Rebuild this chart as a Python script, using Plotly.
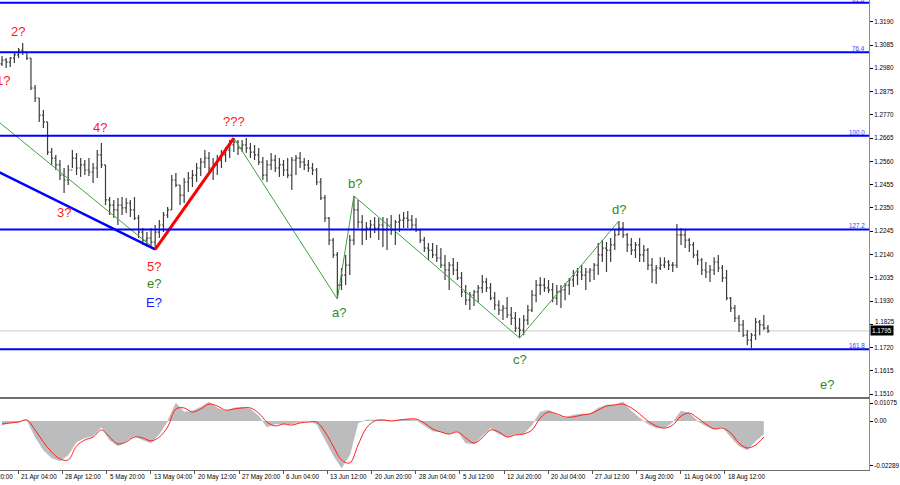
import plotly.graph_objects as go

# ---------------- data ----------------
bar_high = [
    1.3035, 1.3026, 1.3031, 1.3049, 1.3071, 1.3094, 1.3053, 1.3026, 1.2904, 1.2846,
    1.2792, 1.2738, 1.2620, 1.2589, 1.2566, 1.2530, 1.2544, 1.2611, 1.2598, 1.2575,
    1.2566, 1.2575, 1.2553, 1.2611, 1.2643, 1.2544, 1.2399, 1.2386, 1.2395, 1.2399,
    1.2395, 1.2386, 1.2399, 1.2318, 1.2259, 1.2241, 1.2259, 1.2273, 1.2295, 1.2332,
    1.2354, 1.2498, 1.2507, 1.2453, 1.2485, 1.2512, 1.2521, 1.2553, 1.2575, 1.2611,
    1.2602, 1.2575, 1.2589, 1.2611, 1.2625, 1.2656, 1.2665, 1.2656, 1.2656, 1.2665,
    1.2643, 1.2634, 1.2620, 1.2580, 1.2566, 1.2598, 1.2589, 1.2575, 1.2566, 1.2575,
    1.2580, 1.2589, 1.2602, 1.2575, 1.2566, 1.2553, 1.2530, 1.2485, 1.2408, 1.2309,
    1.2214, 1.2151, 1.2079, 1.2138, 1.2228, 1.2404, 1.2386, 1.2318, 1.2286, 1.2295,
    1.2309, 1.2304, 1.2309, 1.2304, 1.2318, 1.2295, 1.2322, 1.2332, 1.2336, 1.2318,
    1.2304, 1.2250, 1.2219, 1.2192, 1.2192, 1.2183, 1.2169, 1.2138, 1.2106, 1.2124,
    1.2106, 1.2061, 1.2002, 1.1971, 1.1980, 1.2002, 1.2047, 1.2034, 1.2011, 1.1971,
    1.1934, 1.1912, 1.1948, 1.1903, 1.1880, 1.1853, 1.1867, 1.1912, 1.1980, 1.2025,
    1.2038, 1.2034, 1.2025, 1.2011, 1.2002, 1.2002, 1.2011, 1.2034, 1.2070, 1.2079,
    1.2092, 1.2079, 1.2079, 1.2101, 1.2192, 1.2205, 1.2196, 1.2214, 1.2250, 1.2291,
    1.2286, 1.2237, 1.2214, 1.2196, 1.2214, 1.2183, 1.2169, 1.2124, 1.2092, 1.2128,
    1.2128, 1.2115, 1.2106, 1.2277, 1.2259, 1.2250, 1.2214, 1.2196, 1.2160, 1.2124,
    1.2106, 1.2092, 1.2128, 1.2138, 1.2092, 1.2070, 1.1948, 1.1912, 1.1867, 1.1844,
    1.1799, 1.1786, 1.1853, 1.1844, 1.1867, 1.1822,
]
bar_low = [
    1.2990, 1.2981, 1.2986, 1.3004, 1.3026, 1.3040, 1.3017, 1.2882, 1.2828, 1.2738,
    1.2710, 1.2589, 1.2544, 1.2521, 1.2476, 1.2417, 1.2453, 1.2530, 1.2498, 1.2489,
    1.2498, 1.2494, 1.2462, 1.2485, 1.2530, 1.2363, 1.2318, 1.2304, 1.2273, 1.2318,
    1.2327, 1.2309, 1.2295, 1.2214, 1.2183, 1.2174, 1.2169, 1.2160, 1.2214, 1.2241,
    1.2304, 1.2341, 1.2444, 1.2363, 1.2372, 1.2422, 1.2444, 1.2467, 1.2494, 1.2530,
    1.2512, 1.2476, 1.2498, 1.2530, 1.2557, 1.2575, 1.2602, 1.2589, 1.2602, 1.2598,
    1.2575, 1.2566, 1.2544, 1.2476, 1.2467, 1.2521, 1.2512, 1.2489, 1.2494, 1.2485,
    1.2431, 1.2498, 1.2530, 1.2521, 1.2512, 1.2498, 1.2453, 1.2386, 1.2286, 1.2183,
    1.2124, 1.1939, 1.1980, 1.2002, 1.2047, 1.2183, 1.2259, 1.2183, 1.2205, 1.2214,
    1.2237, 1.2205, 1.2174, 1.2160, 1.2228, 1.2183, 1.2241, 1.2259, 1.2259, 1.2250,
    1.2241, 1.2192, 1.2151, 1.2115, 1.2124, 1.2106, 1.2079, 1.2025, 1.1980, 1.2047,
    1.2025, 1.1948, 1.1912, 1.1889, 1.1907, 1.1925, 1.1966, 1.1971, 1.1934, 1.1889,
    1.1867, 1.1844, 1.1853, 1.1822, 1.1790, 1.1763, 1.1776, 1.1822, 1.1880, 1.1925,
    1.1957, 1.1971, 1.1966, 1.1925, 1.1912, 1.1898, 1.1934, 1.1957, 1.1993, 1.2002,
    1.2025, 1.1980, 1.2016, 1.2025, 1.2047, 1.2106, 1.2061, 1.2106, 1.2160, 1.2228,
    1.2214, 1.2151, 1.2138, 1.2124, 1.2106, 1.2106, 1.2070, 1.2011, 1.2007, 1.2070,
    1.2079, 1.2070, 1.2061, 1.2079, 1.2183, 1.2169, 1.2151, 1.2124, 1.2092, 1.2047,
    1.2034, 1.2016, 1.2047, 1.2061, 1.2016, 1.1934, 1.1880, 1.1835, 1.1790, 1.1768,
    1.1731, 1.1718, 1.1754, 1.1776, 1.1799, 1.1786,
]
bar_close = [
    1.3017, 1.3008, 1.3026, 1.3040, 1.3062, 1.3053, 1.3026, 1.2891, 1.2846, 1.2769,
    1.2738, 1.2602, 1.2575, 1.2544, 1.2498, 1.2476, 1.2521, 1.2575, 1.2530, 1.2544,
    1.2521, 1.2512, 1.2530, 1.2589, 1.2544, 1.2386, 1.2363, 1.2341, 1.2363, 1.2350,
    1.2372, 1.2341, 1.2304, 1.2241, 1.2205, 1.2214, 1.2196, 1.2241, 1.2273, 1.2318,
    1.2341, 1.2476, 1.2453, 1.2408, 1.2467, 1.2485, 1.2498, 1.2530, 1.2557, 1.2575,
    1.2530, 1.2544, 1.2566, 1.2589, 1.2611, 1.2634, 1.2647, 1.2620, 1.2634, 1.2620,
    1.2602, 1.2589, 1.2557, 1.2498, 1.2544, 1.2566, 1.2530, 1.2544, 1.2521, 1.2498,
    1.2566, 1.2575, 1.2557, 1.2544, 1.2530, 1.2521, 1.2467, 1.2395, 1.2304, 1.2205,
    1.2138, 1.2002, 1.2047, 1.2092, 1.2205, 1.2341, 1.2286, 1.2250, 1.2259, 1.2273,
    1.2259, 1.2273, 1.2250, 1.2273, 1.2250, 1.2286, 1.2295, 1.2304, 1.2295, 1.2273,
    1.2250, 1.2205, 1.2169, 1.2160, 1.2138, 1.2124, 1.2092, 1.2070, 1.2092, 1.2070,
    1.2034, 1.1971, 1.1934, 1.1957, 1.1971, 1.1989, 1.2016, 1.1989, 1.1943, 1.1912,
    1.1889, 1.1898, 1.1867, 1.1853, 1.1808, 1.1799, 1.1844, 1.1889, 1.1957, 1.2002,
    1.2002, 1.1989, 1.1980, 1.1943, 1.1971, 1.1980, 1.2002, 1.2025, 1.2047, 1.2061,
    1.2047, 1.2061, 1.2070, 1.2092, 1.2138, 1.2169, 1.2160, 1.2183, 1.2228, 1.2259,
    1.2228, 1.2183, 1.2160, 1.2183, 1.2138, 1.2160, 1.2092, 1.2070, 1.2079, 1.2092,
    1.2106, 1.2092, 1.2092, 1.2228, 1.2228, 1.2205, 1.2183, 1.2138, 1.2115, 1.2070,
    1.2061, 1.2070, 1.2106, 1.2079, 1.2034, 1.1943, 1.1898, 1.1853, 1.1822, 1.1776,
    1.1754, 1.1776, 1.1835, 1.1822, 1.1808, 1.1795,
]
first_open = 1.3000
current_price = 1.1795

macd_main = [
    -0.0019, -0.0009, -0.0005, 0.0005, -0.0075, -0.0135, -0.0173, -0.0187, -0.0159, -0.0098,
    -0.0079, -0.0070, -0.0028, -0.0089, -0.0117, -0.0093, -0.0070, -0.0089, -0.0103, -0.0061,
    0.0000, 0.0084, 0.0042, 0.0047, 0.0065, 0.0089, 0.0061, 0.0047, 0.0061, 0.0065,
    0.0056, 0.0023, -0.0028, -0.0014, -0.0014, -0.0014, -0.0005, 0.0000, -0.0014, -0.0089,
    -0.0159, -0.0219, -0.0159, -0.0009, 0.0005, 0.0005, 0.0005, 0.0000, 0.0005, 0.0009,
    0.0005, -0.0023, -0.0047, -0.0051, -0.0061, -0.0047, -0.0103, -0.0107, -0.0070, -0.0033,
    -0.0061, -0.0075, -0.0061, -0.0061, -0.0019, 0.0042, 0.0051, 0.0028, 0.0014, 0.0028,
    0.0033, 0.0033, 0.0061, 0.0075, 0.0075, 0.0089, 0.0047, 0.0014, -0.0014, -0.0033,
    -0.0033, -0.0005, 0.0047, 0.0037, 0.0000, -0.0023, -0.0037, -0.0028, -0.0075, -0.0117,
    -0.0135, -0.0093, -0.0061,
]
macd_signal = [
    -0.0014, -0.0009, -0.0005, 0.0005, -0.0042, -0.0098, -0.0145, -0.0177, -0.0182, -0.0117,
    -0.0089, -0.0075, -0.0042, -0.0075, -0.0107, -0.0098, -0.0075, -0.0079, -0.0093, -0.0075,
    -0.0028, 0.0056, 0.0061, 0.0042, 0.0056, 0.0079, 0.0070, 0.0051, 0.0056, 0.0061,
    0.0061, 0.0037, -0.0005, -0.0023, -0.0014, -0.0019, -0.0009, -0.0005, -0.0005, -0.0051,
    -0.0117, -0.0182, -0.0196, -0.0112, -0.0033, 0.0000, 0.0005, 0.0000, 0.0005, 0.0009,
    0.0009, -0.0009, -0.0037, -0.0051, -0.0061, -0.0051, -0.0079, -0.0103, -0.0079, -0.0042,
    -0.0051, -0.0075, -0.0065, -0.0061, -0.0042, 0.0014, 0.0042, 0.0033, 0.0019, 0.0019,
    0.0028, 0.0033, 0.0051, 0.0070, 0.0075, 0.0079, 0.0061, 0.0033, 0.0000, -0.0023,
    -0.0033, -0.0019, 0.0023, 0.0037, 0.0014, -0.0014, -0.0037, -0.0033, -0.0056, -0.0103,
    -0.0126, -0.0112, -0.0075,
]

# Fibonacci levels
fib_labels = ["61.8", "76.4", "100.0", "127.2", "161.8"]
fib_prices = [1.3276, 1.3052, 1.2676, 1.2253, 1.1712]

# wave pivots (bar index, price)
green_idx = [-1, 37, 56, 81, 85, 125, 149]
green_price = [1.2741, 1.2163, 1.2665, 1.1939, 1.2404, 1.1763, 1.2291]
blue_idx = [-1, 37]
blue_price = [1.2514, 1.2163]
red_idx = [37, 56]
red_price = [1.2163, 1.2665]

price_ticks = [1.1510, 1.1615, 1.1720, 1.1825, 1.1930, 1.2035, 1.2140, 1.2245, 1.2350,
               1.2455, 1.2560, 1.2665, 1.2770, 1.2875, 1.2980, 1.3085, 1.3190]
date_labels = ["13 Apr 20:00", "21 Apr 04:00", "28 Apr 12:00", "5 May 20:00", "13 May 04:00",
               "20 May 12:00", "27 May 20:00", "6 Jun 04:00", "13 Jun 12:00",
               "20 Jun 20:00", "28 Jun 04:00", "5 Jul 12:00", "12 Jul 20:00",
               "20 Jul 04:00", "27 Jul 12:00", "3 Aug 20:00", "11 Aug 04:00", "18 Aug 12:00"]
macd_labels = ["0.01075", "0.00", "-0.02289"]

# ---------------- figure ----------------
FONT = "Liberation Sans, Arial, sans-serif"
SMALL = 6.3
n = len(bar_close)
xs = list(range(n))
bar_open = [first_open] + bar_close[:-1]
macd_x = xs[::2][:len(macd_main)]

X0, X1 = -0.48, 209.4

fig = go.Figure()
fig.add_trace(go.Ohlc(
    x=xs, open=bar_open, high=bar_high, low=bar_low, close=bar_close,
    increasing=dict(line=dict(color="#3c3c3c", width=1.2)),
    decreasing=dict(line=dict(color="#3c3c3c", width=1.2)),
    tickwidth=0.35, xaxis="x", yaxis="y", hoverinfo="skip",
))
fig.add_trace(go.Scatter(x=green_idx, y=green_price, mode="lines",
                         line=dict(color="#3fa03f", width=1), xaxis="x", yaxis="y"))
fig.add_trace(go.Scatter(x=blue_idx, y=blue_price, mode="lines",
                         line=dict(color="#0000ff", width=2.5), xaxis="x", yaxis="y"))
fig.add_trace(go.Scatter(x=red_idx, y=red_price, mode="lines",
                         line=dict(color="#ff0000", width=3), xaxis="x", yaxis="y"))

fig.add_trace(go.Scatter(x=macd_x, y=macd_main, mode="lines", fill="tozeroy",
                         fillcolor="#bcbcbc", line=dict(color="#bcbcbc", width=0.5),
                         xaxis="x2", yaxis="y2"))
fig.add_trace(go.Scatter(x=macd_x, y=macd_signal, mode="lines",
                         line=dict(color="#ff2020", width=1, shape="spline"),
                         xaxis="x2", yaxis="y2"))

shapes = []
shapes.append(dict(type="line", xref="paper", x0=0, x1=1, yref="y", y0=current_price,
                   y1=current_price, line=dict(color="#cccccc", width=1), layer="below"))
for p in fib_prices:
    shapes.append(dict(type="line", xref="paper", x0=0, x1=1, yref="y", y0=p, y1=p,
                       line=dict(color="#0000ff", width=2)))

ann = []
for lab, p in zip(fib_labels, fib_prices):
    ann.append(dict(xref="paper", x=0.998, yref="y", y=p, text=lab, showarrow=False,
                    xanchor="right", yanchor="bottom", yshift=-2,
                    font=dict(family=FONT, size=SMALL, color="#3a3aff")))

def wave_label(text, xi, yp, color):
    ann.append(dict(xref="x", x=xi, yref="y", y=yp, text=text, showarrow=False,
                    xanchor="center", yanchor="middle",
                    font=dict(family=FONT, size=13, color=color)))

RED, GREEN, BLUE = "#ff1a1a", "#2e8b1e", "#1a1aff"
wave_label("1?", 0.24, 1.2927, RED)
wave_label("2?", 3.85, 1.3144, RED)
wave_label("3?", 14.9, 1.2331, RED)
wave_label("4?", 23.6, 1.2715, RED)
wave_label("5?", 36.8, 1.2088, RED)
wave_label("e?", 36.8, 1.2007, GREEN)
wave_label("E?", 36.8, 1.1925, BLUE)
wave_label("???", 56.1, 1.2738, RED)
wave_label("a?", 81.4, 1.1876, GREEN)
wave_label("b?", 85.2, 1.2462, GREEN)
wave_label("c?", 125.2, 1.1664, GREEN)
wave_label("d?", 149.0, 1.2345, GREEN)
wave_label("e?", 199.3, 1.1555, GREEN)

# price tick labels: the one next to the current-price box is nudged up (MT4 style)
tick_text = []
for v in price_ticks:
    if abs(v - current_price) < 0.0045:
        tick_text.append("")
        ann.append(dict(xref="paper", x=1.0, yref="y", y=v, text=f"{v:.4f}",
                        showarrow=False, xanchor="left", yanchor="middle", xshift=4,
                        yshift=3, font=dict(family=FONT, size=SMALL, color="#000000")))
    else:
        tick_text.append(f"{v:.4f}")

# current price box
ann.append(dict(xref="paper", x=1.0, yref="y", y=current_price, text=f"{current_price:.4f}",
                showarrow=False, xanchor="left", yanchor="middle", xshift=1,
                bgcolor="#000000", font=dict(family=FONT, size=SMALL, color="#ffffff"),
                borderpad=1))

# date labels (left-aligned at their tick, MT4 style)
tick_step = 32 / 3.0
first_tick = 3.92 - tick_step
date_ticks = [first_tick + k * tick_step for k in range(len(date_labels))]
for t, lab in zip(date_ticks, date_labels):
    ann.append(dict(xref="paper", x=(t - X0) / (X1 - X0), yref="paper", y=0,
                    text=lab, showarrow=False, xanchor="left", yanchor="top",
                    xshift=1, yshift=-1,
                    font=dict(family=FONT, size=SMALL, color="#000000")))

MAIN_BOT = 73 / 470.0
IND_TOP = 72 / 470.0

fig.update_layout(
    width=900, height=485,
    margin=dict(l=0, r=28, t=0, b=15),
    paper_bgcolor="white", plot_bgcolor="white",
    showlegend=False, hovermode=False,
    shapes=shapes, annotations=ann,
    xaxis=dict(domain=[0, 1], range=[X0, X1], anchor="y", showticklabels=False,
               showgrid=False, zeroline=False, showline=True, linecolor="#6e6e6e",
               linewidth=2, ticks="", rangeslider=dict(visible=False)),
    yaxis=dict(domain=[MAIN_BOT, 1], range=[1.1497, 1.3288], side="right",
               tickvals=price_ticks, ticktext=tick_text,
               ticks="outside", ticklen=3, tickcolor="#000000",
               tickfont=dict(family=FONT, size=SMALL, color="#000000"),
               showgrid=False, zeroline=False, showline=True, linecolor="#8c8c8c",
               linewidth=1),
    xaxis2=dict(domain=[0, 1], range=[X0, X1], anchor="y2", matches="x",
                tickvals=date_ticks, showticklabels=False, ticks="outside", ticklen=3,
                tickcolor="#555555", showgrid=False, zeroline=False, showline=True,
                linecolor="#6e6e6e", linewidth=1, rangeslider=dict(visible=False)),
    yaxis2=dict(domain=[0, IND_TOP], range=[-0.02289, 0.01075], side="right",
                tickvals=[0.0084, 0.0, -0.0210], ticktext=macd_labels,
                ticks="outside", ticklen=3, tickcolor="#000000",
                tickfont=dict(family=FONT, size=SMALL, color="#000000"),
                showgrid=False, zeroline=False, showline=True, linecolor="#8c8c8c",
                linewidth=1),
)

fig.write_html("out.html", config={"displayModeBar": False},
               post_script="document.body.style.margin='0';document.body.style.overflow='hidden';")
